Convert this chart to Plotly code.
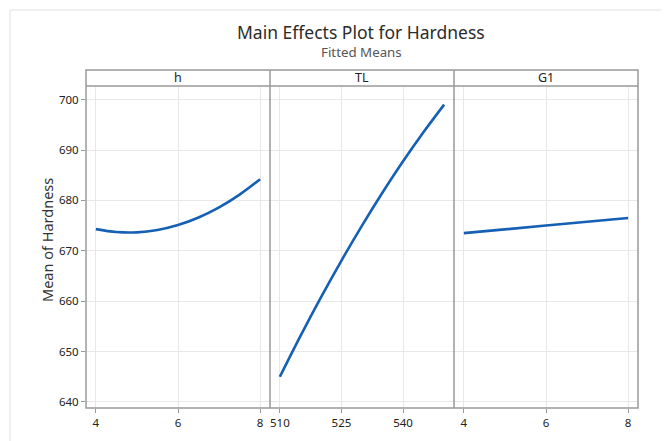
import plotly.graph_objects as go

# Data
h_vals = [4, 4.5, 5, 5.5, 6, 6.5, 7, 7.5, 8]
h_means = [674.3, 673.72, 673.66, 674.12, 675.1, 676.6, 678.61, 681.15, 684.2]

tl_vals = [510, 515, 520, 525, 530, 535, 540, 545, 550]
tl_means = [645.0, 653.06, 660.75, 668.06, 675.0, 681.56, 687.75, 693.56, 699.0]

g1_vals = [4, 6, 8]
g1_means = [673.5, 675.0, 676.5]

panel_names = ["h", "TL", "G1"]
y_ticks = [640, 650, 660, 670, 680, 690, 700]
h_ticks = [4, 6, 8]
tl_ticks = [510, 525, 540]
g1_ticks = [4, 6, 8]

FONT = "Noto Sans"
LINE_COLOR = "#1560b4"
AXIS_COLOR = "#999999"
GRID_COLOR = "#e8e8e8"
TEXT_COLOR = "#222222"

# page body has an 8px margin; figure is sized/positioned to compensate
W, H = 661, 433
L, T = 78, 78
pw, ph = 552, 322
R, B = W - L - pw, H - T - ph

fig = go.Figure()
series = [(h_vals, h_means), (tl_vals, tl_means), (g1_vals, g1_means)]
for i, (xs, ys) in enumerate(series):
    fig.add_trace(go.Scatter(
        x=xs, y=ys, mode="lines", line=dict(color=LINE_COLOR, width=2.6, shape="spline"),
        xaxis="x" if i == 0 else f"x{i+1}", yaxis="y" if i == 0 else f"y{i+1}",
        showlegend=False, hoverinfo="skip"))

yrange = [638.8, 702.7]
xranges = [[3.76, 8.24], [507.6, 552.4], [3.76, 8.24]]
xticks = [h_ticks, tl_ticks, g1_ticks]
domains = [[0, 1/3], [1/3, 2/3], [2/3, 1]]

layout = dict(
    width=W, height=H, margin=dict(l=L, r=R, t=T, b=B, autoexpand=False),
    paper_bgcolor="white", plot_bgcolor="white",
    font=dict(family=FONT, color=TEXT_COLOR, size=11),
)
for i in range(3):
    xk = "xaxis" if i == 0 else f"xaxis{i+1}"
    yk = "yaxis" if i == 0 else f"yaxis{i+1}"
    xa = "x" if i == 0 else f"x{i+1}"
    layout[xk] = dict(
        domain=domains[i], range=xranges[i], tickvals=xticks[i],
        showgrid=True, gridcolor=GRID_COLOR, gridwidth=1, showline=False,
        ticks="outside", ticklen=4, tickcolor=AXIS_COLOR,
        tickfont=dict(size=11.5, color=TEXT_COLOR), zeroline=False,
        anchor="y" if i == 0 else f"y{i+1}")
    layout[yk] = dict(
        domain=[0, 1], range=yrange, tickvals=y_ticks,
        showgrid=True, gridcolor=GRID_COLOR, gridwidth=1, showline=False,
        ticks="outside" if i == 0 else "", ticklen=4, tickcolor=AXIS_COLOR,
        showticklabels=(i == 0), tickfont=dict(size=11.5, color=TEXT_COLOR),
        zeroline=False, anchor=xa)
fig.update_layout(**layout)

strip_top = 1 + 16 / ph
shapes = []
annotations = []
# panel frames
shapes.append(dict(type="rect", xref="paper", yref="paper", x0=0, x1=1, y0=0, y1=strip_top,
                   line=dict(color=AXIS_COLOR, width=1.5), fillcolor="rgba(0,0,0,0)", layer="above"))
shapes.append(dict(type="line", xref="paper", yref="paper", x0=0, x1=1, y0=1, y1=1,
                   line=dict(color=AXIS_COLOR, width=1.5), layer="above"))
for d in [1/3, 2/3]:
    shapes.append(dict(type="line", xref="paper", yref="paper", x0=d, x1=d, y0=0, y1=strip_top,
                       line=dict(color=AXIS_COLOR, width=1.5), layer="above"))
for i in range(3):
    annotations.append(dict(text=panel_names[i], xref="paper", yref="paper",
                            x=(domains[i][0] + domains[i][1]) / 2, y=(1 + strip_top) / 2,
                            showarrow=False, font=dict(size=12.5, color=TEXT_COLOR),
                            xanchor="center", yanchor="middle"))

# outer faint frame (screen x 10..666, y 10..beyond bottom)
def py(screen_y):
    return (T + ph - (screen_y - 8)) / ph

def px(screen_x):
    return (screen_x - 8 - L) / pw

shapes.append(dict(type="rect", xref="paper", yref="paper",
                   x0=px(10), x1=px(665.5), y0=py(460), y1=py(10),
                   line=dict(color="#e0e0e0", width=1), fillcolor="rgba(0,0,0,0)", layer="below"))

annotations.append(dict(text="Main Effects Plot for Hardness", xref="paper", yref="paper",
                        x=px(361), y=py(32), showarrow=False,
                        font=dict(size=17.5, color="#2b2b2b"), xanchor="center", yanchor="middle"))
annotations.append(dict(text="Fitted Means", xref="paper", yref="paper",
                        x=px(361), y=py(52), showarrow=False,
                        font=dict(size=13.3, color="#555555"), xanchor="center", yanchor="middle"))
annotations.append(dict(text="Mean of Hardness", xref="paper", yref="paper",
                        x=px(47), y=py(240), showarrow=False, textangle=-90,
                        font=dict(size=14.5, color="#333333"), xanchor="center", yanchor="middle"))

fig.update_layout(shapes=shapes, annotations=annotations)
fig.write_html(
    "out.html",
    post_script="document.documentElement.style.overflow='hidden';document.body.style.overflow='hidden';",
)
